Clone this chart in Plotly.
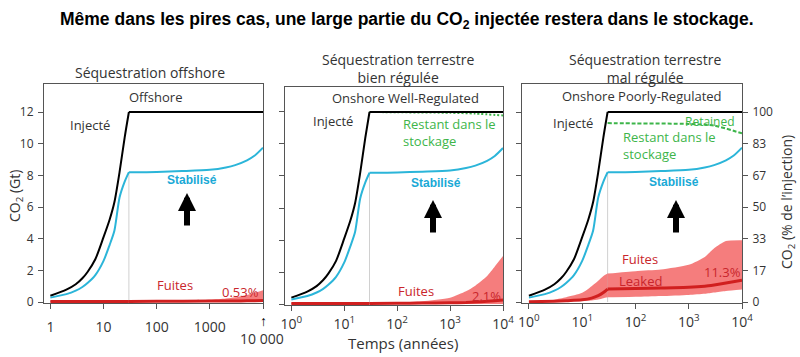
import plotly.graph_objects as go

# ---------------- data ----------------
years = [1, 2, 3, 4, 5, 7, 10, 13, 16, 20, 25, 30, 100, 300, 1000, 2000, 3000, 5000, 7000, 10000]
injected = [0.4, 0.78, 1.12, 1.5, 1.9, 2.7, 4.1, 5.2, 6.3, 8.2, 10.4, 12.0,
            12.0, 12.0, 12.0, 12.0, 12.0, 12.0, 12.0, 12.0]
stabilised = [0.28, 0.5, 0.72, 0.95, 1.2, 1.7, 2.6, 3.6, 4.5, 6.6, 7.6, 8.2,
              8.22, 8.27, 8.35, 8.5, 8.65, 8.95, 9.25, 9.75]
end_injection_year = 30

# offshore leakage
off_years = [1, 30, 100, 1000, 2000, 3000, 5000, 7000, 10000]
off_leak = [0.03, 0.04, 0.05, 0.06, 0.065, 0.07, 0.075, 0.08, 0.09]
off_band_hi = [0.06, 0.07, 0.08, 0.14, 0.22, 0.3, 0.45, 0.58, 0.75]
off_band_lo = [0, 0, 0, 0, 0, 0, 0, 0, 0]

# onshore well-regulated
well_years = [1, 30, 100, 300, 1000, 2000, 3000, 5000, 7000, 10000]
well_leak = [0.03, 0.04, 0.05, 0.06, 0.08, 0.1, 0.13, 0.17, 0.21, 0.25]
well_band_hi = [0.06, 0.08, 0.1, 0.18, 0.4, 0.8, 1.15, 1.75, 2.35, 3.0]
well_band_lo = [0, 0, 0, 0, 0, 0, 0, 0, 0, 0]
well_ret_years = [30, 100, 1000, 3000, 10000]
well_retained = [12.0, 11.98, 11.95, 11.9, 11.78]

# onshore poorly-regulated
poor_years = [1, 3, 5, 10, 15, 20, 25, 30, 100, 300, 1000, 2000, 3000, 5000, 10000]
poor_leak = [0.02, 0.05, 0.08, 0.14, 0.25, 0.4, 0.6, 0.82, 0.86, 0.89, 0.93, 1.0, 1.08, 1.2, 1.38]
poor_band_hi = [0.03, 0.15, 0.3, 0.58, 1.0, 1.35, 1.65, 1.8, 1.95, 2.05, 2.35, 2.85, 3.4, 3.85, 3.9]
poor_band_lo = [0, 0.01, 0.02, 0.06, 0.1, 0.16, 0.24, 0.3, 0.33, 0.38, 0.45, 0.52, 0.6, 0.7, 0.8]
poor_ret_years = [30, 100, 1000, 3000, 10000]
poor_retained = [11.3, 11.28, 11.25, 11.15, 10.65]

gt_ticks = [0, 2, 4, 6, 8, 10, 12]
pct_labels = ["0", "17", "33", "50", "67", "83", "100"]
x1_ticks = [1, 10, 100, 1000, 10000]
x1_labels = ["1", "10", "100", "1000", ""]
xp_labels = ["10<sup>0</sup>", "10<sup>1</sup>", "10<sup>2</sup>", "10<sup>3</sup>", "10<sup>4</sup>"]

# ---------------- style ----------------
W, H = 800, 357          # design size; layout is in paper fractions of it
BLACK = "#000000"
CYAN = "#2bb5d9"
GREEN = "#3db54a"
RED_LINE = "#d11f1f"
RED_FILL = "rgba(243,102,102,0.85)"
RED_TXT = "#c9262c"
GREY_TXT = "#333333"
AX = "#555555"
FONT = "Open Sans"

fig = go.Figure()


def split(xs, ys):
    """Split a series at the end of injection so the kink stays sharp."""
    if end_injection_year in xs:
        k = xs.index(end_injection_year)
        return [(xs[:k + 1], ys[:k + 1]), (xs[k:], ys[k:])]
    return [(xs, ys)]


def line(xs, ys, xa, ya, **kw):
    for sx, sy in split(xs, ys):
        fig.add_trace(go.Scatter(x=sx, y=sy, mode="lines", xaxis=xa, yaxis=ya,
                                 showlegend=False, hoverinfo="skip", **kw))


def add_panel(n, leak_x, leak_y, hi, lo, ret_x=None, ret_y=None, ret_dash=None):
    xa = "x" if n == 1 else f"x{n}"
    ya = "y" if n == 1 else f"y{n}"
    i = years.index(end_injection_year)
    fig.add_trace(go.Scatter(x=[years[i], years[i]], y=[0, stabilised[i]], mode="lines",
                             line=dict(color="#d0d0d0", width=1), xaxis=xa, yaxis=ya,
                             hoverinfo="skip", showlegend=False))
    for (sx, slo), (_, shi) in zip(split(leak_x, lo), split(leak_x, hi)):
        fig.add_trace(go.Scatter(x=sx, y=slo, mode="lines", line=dict(width=0, shape="spline", smoothing=0.6),
                                 xaxis=xa, yaxis=ya, showlegend=False, hoverinfo="skip"))
        fig.add_trace(go.Scatter(x=sx, y=shi, mode="lines", line=dict(width=0, shape="spline", smoothing=0.6),
                                 fill="tonexty", fillcolor=RED_FILL,
                                 xaxis=xa, yaxis=ya, showlegend=False, hoverinfo="skip"))
    if ret_x is not None:
        line(ret_x, ret_y, xa, ya, line=dict(color=GREEN, width=2, dash=ret_dash,
                                             shape="spline", smoothing=0.6))
    line(years, injected, xa, ya, line=dict(color=BLACK, width=2, shape="spline", smoothing=0.7))
    line(years, stabilised, xa, ya, line=dict(color=CYAN, width=2, shape="spline", smoothing=0.7))
    line(leak_x, leak_y, xa, ya, line=dict(color=RED_LINE, width=3, shape="spline", smoothing=0.6))


add_panel(1, off_years, off_leak, off_band_hi, off_band_lo)
add_panel(2, well_years, well_leak, well_band_hi, well_band_lo, well_ret_years, well_retained, "2px,2px")
add_panel(3, poor_years, poor_leak, poor_band_hi, poor_band_lo, poor_ret_years, poor_retained, "4px,2px")
fig.add_trace(go.Scatter(x=[years[0]], y=[0], mode="markers", marker=dict(opacity=0),
                         xaxis="x3", yaxis="y4", showlegend=False, hoverinfo="skip"))


def px_dom(a, b):
    return [a / W, b / W]


def py_dom(top, bottom):
    return [1 - bottom / H, 1 - top / H]


axis_common = dict(showline=True, linecolor=AX, linewidth=1, mirror=True, showgrid=False,
                   zeroline=False, ticks="outside", tickcolor=AX, ticklen=5)
x_common = dict(axis_common, type="log", tickfont=dict(family=FONT, size=14, color=GREY_TXT))
y_common = dict(axis_common, tickvals=gt_ticks, tickfont=dict(family=FONT, size=12, color=GREY_TXT))

fig.update_layout(
    autosize=True, margin=dict(l=0, r=0, t=0, b=0, autoexpand=False),
    paper_bgcolor="white", plot_bgcolor="white", showlegend=False,
    xaxis=dict(x_common, domain=px_dom(44, 263), range=[-0.12, 4.0], anchor="y",
               tickvals=x1_ticks, ticktext=x1_labels, ticklabelstandoff=6),
    xaxis2=dict(x_common, domain=px_dom(285, 503), range=[-0.12, 4.0], anchor="y2",
                tickvals=x1_ticks, ticktext=xp_labels, ticklabelstandoff=1),
    xaxis3=dict(x_common, domain=px_dom(522, 742), range=[-0.13, 4.0], anchor="y3",
                tickvals=x1_ticks, ticktext=xp_labels, ticklabelstandoff=1),
    yaxis=dict(y_common, domain=py_dom(84, 303), range=[-0.06, 13.77], anchor="x",
               ticklabelstandoff=2),
    yaxis2=dict(y_common, domain=py_dom(87, 305), range=[-0.06, 13.56], anchor="x2",
                showticklabels=False),
    yaxis3=dict(y_common, domain=py_dom(84, 303), range=[-0.06, 13.77], anchor="x3",
                showticklabels=False),
    yaxis4=dict(y_common, overlaying="y3", side="right", anchor="x3", range=[-0.06, 13.77],
                ticktext=pct_labels, showline=False, mirror=False, ticklabelstandoff=2),
)


def P(px, py):
    return px / W, 1 - py / H


annotations = []


def txt(text, px, py, size=13, color=GREY_TXT, bold=False, family=FONT, xanchor="center",
        angle=0, align="center"):
    x, y = P(px, py)
    annotations.append(dict(text=f"<b>{text}</b>" if bold else text, x=x, y=y, xref="paper",
                            yref="paper", showarrow=False, xanchor=xanchor, yanchor="middle",
                            textangle=angle, align=align,
                            font=dict(family=family, size=size, color=color)))


txt("Même dans les pires cas, une large partie du CO<sub>2</sub> injectée restera dans le stockage.",
    407, 20, size=17.5, color="#000000", bold=True, family="Liberation Sans")
txt("Séquestration offshore", 150, 73, size=14)
txt("Séquestration terrestre<br>bien régulée", 398, 68, size=14)
txt("Séquestration terrestre<br>mal régulée", 645, 68, size=14)
txt("Offshore", 155, 97, size=13)
txt("Onshore Well-Regulated", 405, 98, size=13)
txt("Onshore Poorly-Regulated", 642, 96, size=13)
for px, py in [(90, 125), (333, 121), (573, 123)]:
    txt("Injecté", px, py, size=13)
txt("Restant dans le<br>stockage", 401, 132, size=13, color=GREEN, xanchor="left", align="left")
txt("Restant dans le<br>stockage", 621, 145, size=13, color=GREEN, xanchor="left", align="left")
txt("Retained", 710, 121, size=12, color=GREEN)
for px, py in [(192, 180), (436, 183), (674, 182)]:
    txt("Stabilisé", px, py, size=12, color="#1aa9d6", bold=True, family="Liberation Sans")
txt("Fuites", 175, 285, size=13, color=RED_TXT)
txt("Fuites", 416, 291, size=13, color=RED_TXT)
txt("Fuites", 640, 259, size=13, color=RED_TXT)
txt("Leaked", 640, 281, size=13, color=RED_TXT)
txt("0.53%", 240, 292, size=13, color=RED_TXT)
txt("2.1%", 486, 296, size=13, color=RED_TXT)
txt("11.3%", 722, 272, size=13, color=RED_TXT)
txt("Temps (années)", 403, 343, size=15)
txt("↑", 263, 320, size=14, color="#000000")
txt("10 000", 262, 338, size=14)
txt("CO<sub>2</sub> (Gt)", 15, 196, size=14, angle=-90)
txt("CO<sub>2</sub> (% de l’injection)", 787, 202, size=14, angle=-90)

for px, py in [(187, 193), (433, 200), (676, 200)]:
    x, y = P(px, py)
    annotations.append(dict(x=x, y=y, xref="paper", yref="paper", ax=0, ay=34, showarrow=True,
                            arrowhead=2, arrowsize=0.6, arrowwidth=6, arrowcolor="#000000",
                            text=""))

fig.update_layout(annotations=annotations)
fig.write_html("out.html", config={"displayModeBar": False},
               default_width="100vw", default_height="100vh",
               post_script="document.body.style.margin='0';"
                           "document.documentElement.style.overflow='hidden';")
